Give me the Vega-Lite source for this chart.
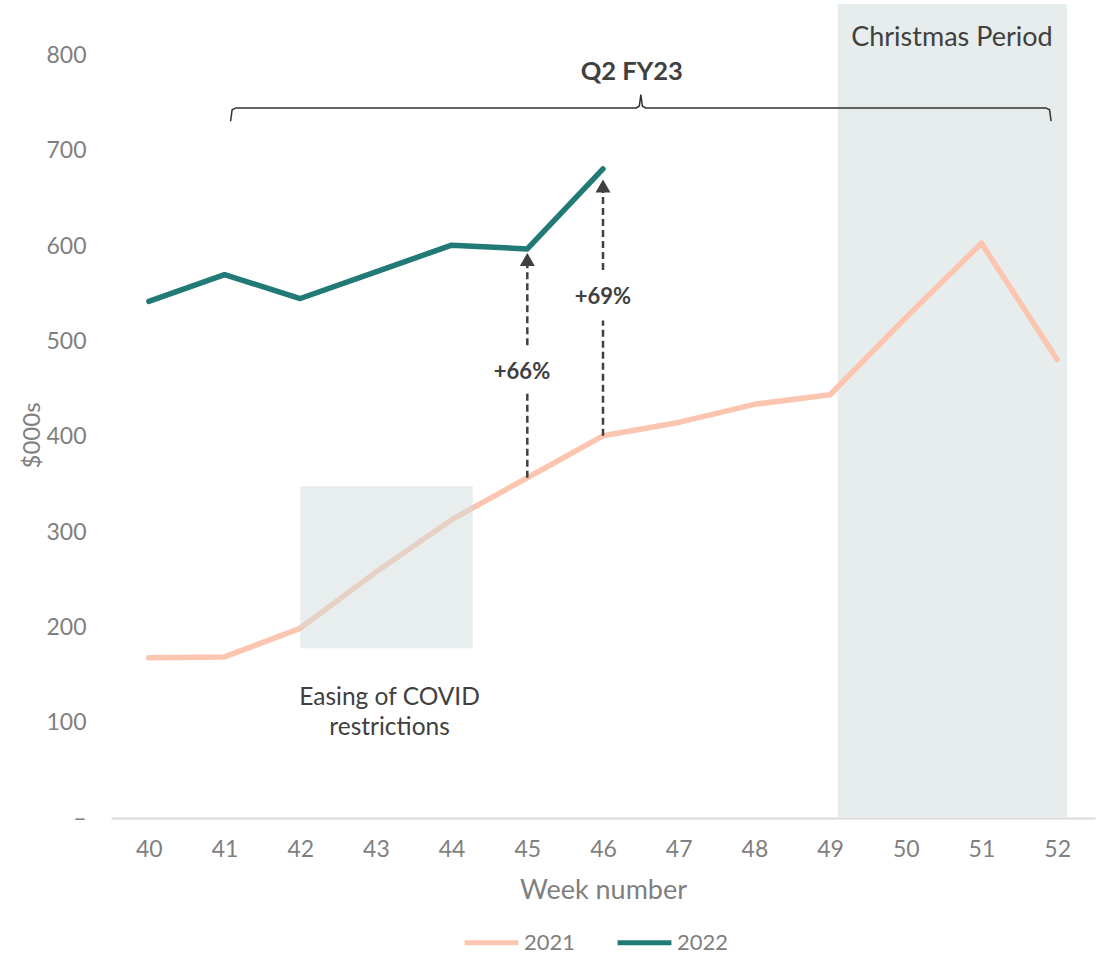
{
  "$schema": "https://vega.github.io/schema/vega-lite/v6.json",
  "width": 984,
  "height": 814,
  "autosize": {"type": "none"},
  "padding": {"left": 111, "top": 4, "right": 7, "bottom": 135},
  "background": "white",
  "config": {
    "view": {"stroke": null},
    "font": "Lato",
    "axis": {"grid": false, "ticks": false, "labelFont": "Lato", "titleFont": "Lato", "labelColor": "#7f7f7f", "titleColor": "#7f7f7f", "labelFontSize": 23, "titleFontSize": 27, "titleFontWeight": "normal"}
  },
  "datasets": {
    "sales": [
      {"week": 40, "year": "2021", "value": 168},
      {"week": 41, "year": "2021", "value": 169},
      {"week": 42, "year": "2021", "value": 199},
      {"week": 43, "year": "2021", "value": 258},
      {"week": 44, "year": "2021", "value": 313},
      {"week": 45, "year": "2021", "value": 357},
      {"week": 46, "year": "2021", "value": 401},
      {"week": 47, "year": "2021", "value": 415},
      {"week": 48, "year": "2021", "value": 434},
      {"week": 49, "year": "2021", "value": 444},
      {"week": 50, "year": "2021", "value": 525},
      {"week": 51, "year": "2021", "value": 603},
      {"week": 52, "year": "2021", "value": 481},
      {"week": 40, "year": "2022", "value": 542},
      {"week": 41, "year": "2022", "value": 570},
      {"week": 42, "year": "2022", "value": 545},
      {"week": 43, "year": "2022", "value": 573},
      {"week": 44, "year": "2022", "value": 601},
      {"week": 45, "year": "2022", "value": 597},
      {"week": 46, "year": "2022", "value": 681}
    ],
    "christmas": [{"x1": 49.1, "x2": 52.13, "y1": 0, "y2": 854}],
    "covid": [{"x1": 42.0, "x2": 44.28, "y1": 178, "y2": 348}],
    "bracket": [
      {"o": 1, "x": 41.08, "y": 731},
      {"o": 2, "x": 41.1, "y": 743},
      {"o": 3, "x": 41.15, "y": 745},
      {"o": 4, "x": 46.44, "y": 745},
      {"o": 5, "x": 46.48, "y": 747},
      {"o": 6, "x": 46.5, "y": 759},
      {"o": 7, "x": 46.52, "y": 747},
      {"o": 8, "x": 46.56, "y": 745},
      {"o": 9, "x": 51.85, "y": 745},
      {"o": 10, "x": 51.9, "y": 743},
      {"o": 11, "x": 51.92, "y": 731}
    ],
    "dashes": [
      {"x": 45, "y1": 357, "y2": 446},
      {"x": 45, "y1": 496, "y2": 580},
      {"x": 46, "y1": 401, "y2": 522},
      {"x": 46, "y1": 575, "y2": 657}
    ],
    "heads": [
      {"x": 45, "y": 586},
      {"x": 46, "y": 663}
    ],
    "labels": [
      {"x": 50.61, "y": 818, "text": "Christmas Period", "size": 27},
      {"x": 43.18, "y": 126, "text": "Easing of COVID", "size": 24.5},
      {"x": 43.18, "y": 94, "text": "restrictions", "size": 24.5}
    ],
    "boldlabels": [
      {"x": 46.38, "y": 783, "text": "Q2 FY23", "size": 25.5},
      {"x": 44.93, "y": 468, "text": "+66%", "size": 22},
      {"x": 46.0, "y": 547, "text": "+69%", "size": 22}
    ]
  },
  "layer": [
    {
      "data": {"name": "christmas"},
      "mark": {"type": "rect", "fill": "#e7edec"},
      "encoding": {
        "x": {"field": "x1", "type": "quantitative", "scale": {"domain": [39.5, 52.5], "nice": false, "zero": false}},
        "x2": {"field": "x2"},
        "y": {"field": "y1", "type": "quantitative", "scale": {"domain": [0, 854], "nice": false}},
        "y2": {"field": "y2"}
      }
    },
    {
      "data": {"name": "sales"},
      "mark": {"type": "line", "strokeWidth": 5.5, "strokeCap": "round", "strokeJoin": "round"},
      "encoding": {
        "x": {
          "field": "week", "type": "quantitative",
          "scale": {"domain": [39.5, 52.5], "nice": false, "zero": false},
          "axis": {"values": [40,41,42,43,44,45,46,47,48,49,50,51,52], "format": "d", "title": "Week number", "domainColor": "#d9d9d9", "domainWidth": 2, "labelPadding": 20, "titleY": 72, "titleBaseline": "middle", "labelFlush": false}
        },
        "y": {
          "field": "value", "type": "quantitative",
          "scale": {"domain": [0, 854], "nice": false},
          "axis": {"values": [0,100,200,300,400,500,600,700,800], "domain": false, "labelPadding": 25, "labelExpr": "datum.value == 0 ? '–' : datum.label", "title": "$000s", "titleFontSize": 24, "titleX": -79, "titleY": 431, "titleAngle": -90, "titleBaseline": "middle", "titleAlign": "center"}
        },
        "color": {
          "field": "year", "type": "nominal",
          "scale": {"domain": ["2021", "2022"], "range": ["#fcc5b0", "#217a76"]},
          "legend": {"title": null, "orient": "none", "direction": "horizontal", "legendX": 351, "legendY": 909, "symbolType": "stroke", "symbolSize": 2900, "symbolStrokeWidth": 5, "labelFontSize": 22, "labelColor": "#7f7f7f", "labelFont": "Lato", "labelOffset": 3, "columnPadding": 31}
        }
      }
    },
    {
      "data": {"name": "covid"},
      "mark": {"type": "rect", "fill": "#d2dddb", "opacity": 0.5},
      "encoding": {
        "x": {"field": "x1", "type": "quantitative"},
        "x2": {"field": "x2"},
        "y": {"field": "y1", "type": "quantitative"},
        "y2": {"field": "y2"}
      }
    },
    {
      "data": {"name": "bracket"},
      "mark": {"type": "line", "stroke": "#333333", "strokeWidth": 1.5},
      "encoding": {
        "x": {"field": "x", "type": "quantitative"},
        "y": {"field": "y", "type": "quantitative"},
        "order": {"field": "o", "type": "quantitative"}
      }
    },
    {
      "data": {"name": "dashes"},
      "mark": {"type": "rule", "stroke": "#404040", "strokeWidth": 2.5, "strokeDash": [7, 4]},
      "encoding": {
        "x": {"field": "x", "type": "quantitative"},
        "y": {"field": "y1", "type": "quantitative"},
        "y2": {"field": "y2"}
      }
    },
    {
      "data": {"name": "heads"},
      "mark": {"type": "point", "shape": "triangle-up", "filled": true, "size": 225, "fill": "#404040", "opacity": 1, "strokeWidth": 0},
      "encoding": {
        "x": {"field": "x", "type": "quantitative"},
        "y": {"field": "y", "type": "quantitative"}
      }
    },
    {
      "data": {"name": "labels"},
      "mark": {"type": "text", "color": "#404040", "baseline": "middle", "align": "center", "font": "Lato"},
      "encoding": {
        "x": {"field": "x", "type": "quantitative"},
        "y": {"field": "y", "type": "quantitative"},
        "text": {"field": "text"},
        "size": {"field": "size", "type": "quantitative", "scale": null, "legend": null}
      }
    },
    {
      "data": {"name": "boldlabels"},
      "mark": {"type": "text", "fontWeight": "bold", "color": "#404040", "baseline": "middle", "align": "center", "font": "Lato"},
      "encoding": {
        "x": {"field": "x", "type": "quantitative"},
        "y": {"field": "y", "type": "quantitative"},
        "text": {"field": "text"},
        "size": {"field": "size", "type": "quantitative", "scale": null, "legend": null}
      }
    }
  ]
}
